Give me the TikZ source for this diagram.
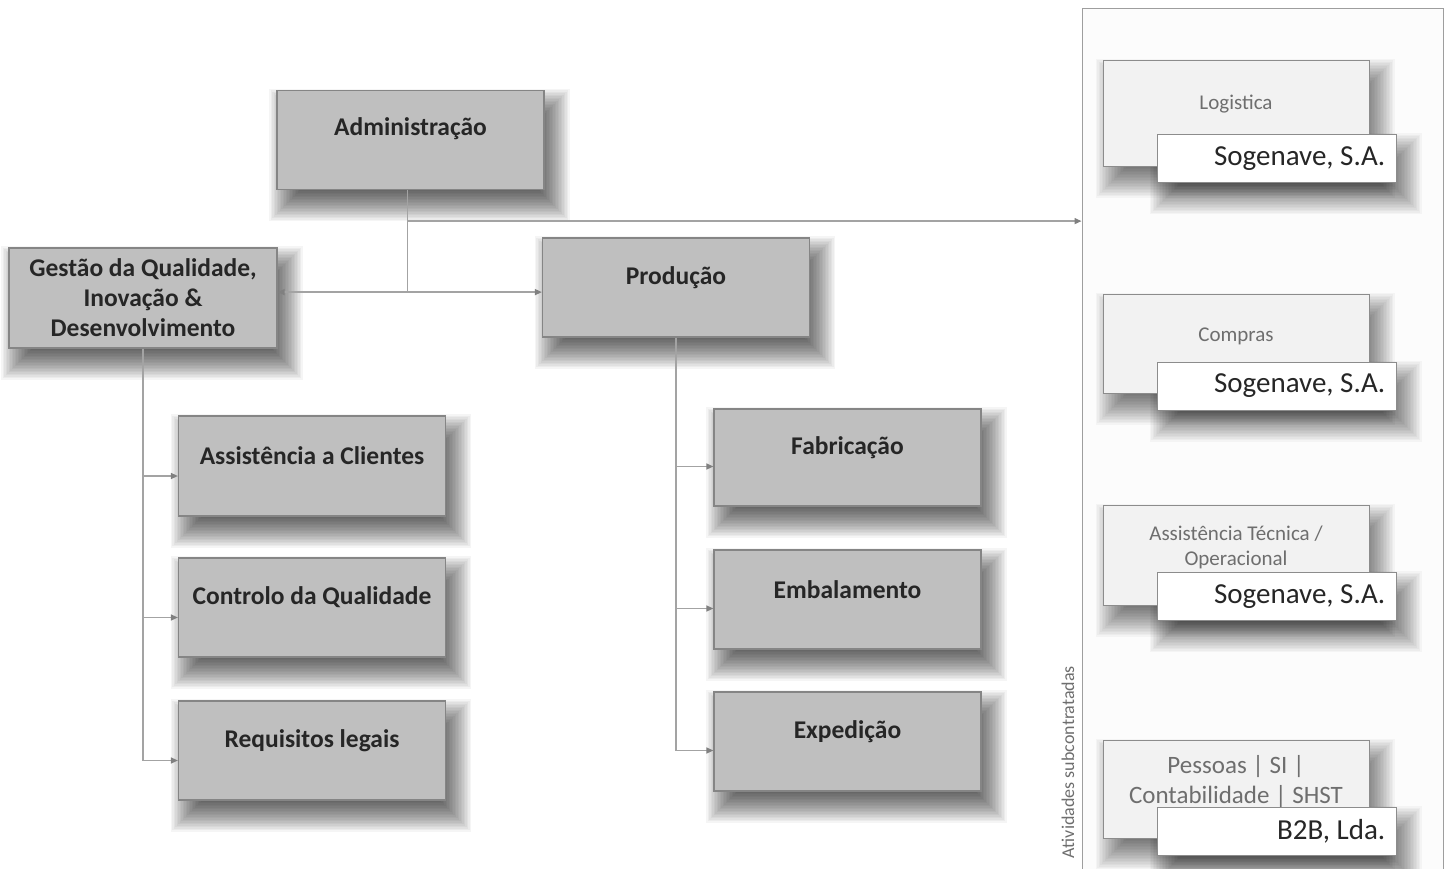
\documentclass[tikz,border=0pt]{standalone}
\usepackage{fontspec}
\setmainfont{Carlito}
\usetikzlibrary{arrows.meta,calc}
\definecolor{boxgray}{HTML}{BFBFBF}
\definecolor{boxedge}{HTML}{858585}
\definecolor{txtdark}{HTML}{262626}
\definecolor{lboxfill}{HTML}{F2F2F2}
\definecolor{lboxedge}{HTML}{8C8C8C}
\definecolor{ltext}{HTML}{6E6E6E}
\definecolor{conncolor}{HTML}{A3A3A3}
\definecolor{tipcolor}{HTML}{808080}
\definecolor{frameedge}{HTML}{9E9E9E}
\definecolor{framefill}{HTML}{FCFCFC}
\pgfdeclarelayer{framelayer}
\pgfdeclarelayer{shadelayer}
\pgfsetlayers{framelayer,shadelayer,main}
% soft drop shade under a named box: stacked translucent rectangles
\newcommand{\dropshade}[2][0.04]{%
  \begin{pgfonlayer}{shadelayer}
  \foreach \e in {-14,-12.5,...,16.1}{
    \fill[black,opacity=#1] ($(#2.north west)+(9-\e,15-\e)$)
      rectangle ($(#2.south east)+(9+\e,15+\e)$);
  }
  \end{pgfonlayer}}
\begin{document}
\begin{tikzpicture}[x=1pt,y=-1pt,
  gbox/.style={draw=boxedge, fill=boxgray, line width=1.2pt,
    minimum width=267pt, minimum height=99pt, inner sep=0pt},
  gtext/.style={font=\bfseries\fontsize{25.5}{30}\selectfont,
    text=txtdark, inner sep=0pt, align=center},
  lbox/.style={draw=lboxedge, fill=lboxfill, line width=1pt,
    minimum width=266pt, minimum height=100pt, inner sep=0pt},
  ltxt/.style={font=\fontsize{21}{25}\selectfont, text=ltext,
    inner sep=0pt, align=center},
  wbox/.style={draw=lboxedge, fill=white, line width=1pt,
    minimum width=239pt, minimum height=48pt, inner sep=0pt},
  wtxt/.style={font=\fontsize{29}{32}\selectfont, text=txtdark,
    inner sep=0pt, anchor=east},
  conn/.style={draw=conncolor, line width=1.4pt},
  arr/.style={conn, -{Triangle[length=7pt,width=6pt,color=tipcolor]}}
]
\useasboundingbox (0,0) rectangle (1448,868);
\begin{pgfonlayer}{framelayer}
\fill[white] (0,0) rectangle (1448,868);
% frame of the subcontracted activities
\node[draw=frameedge, fill=framefill, line width=1pt, minimum width=361pt,
  minimum height=880pt, inner sep=0pt] (frame) at (1262.5,448) {};
\end{pgfonlayer}
\node[rotate=90, font=\fontsize{18}{20}\selectfont, text=ltext, inner sep=0pt]
  (frametxt) at (1068,762) {Atividades subcontratadas};

% main departments
\node[gbox] (admin) at (410.5,140) {};
\node[gtext] (admint) at ([yshift=-39pt]admin.north) {Administração};
\node[gbox, minimum width=268pt, minimum height=100pt] (gest) at (143,298) {};
\node[gtext] (gestt) at (gest.center) {Gestão da Qualidade,\\Inovação \&\\Desenvolvimento};
\node[gbox] (prod) at (676,287.5) {};
\node[gtext] (prodt) at ([yshift=-40pt]prod.north) {Produção};

\node[gbox, minimum height=100pt] (assist) at (312,466) {};
\node[gtext] (assistt) at ([yshift=-40pt]assist.north) {Assistência a Clientes};
\node[gbox] (ctrl) at (312,607.5) {};
\node[gtext] (ctrlt) at ([yshift=-40pt]ctrl.north) {Controlo da Qualidade};
\node[gbox] (req) at (312,750.5) {};
\node[gtext] (reqt) at ([yshift=-40pt]req.north) {Requisitos legais};

\node[gbox, minimum height=97pt] (fab) at (847.5,457.5) {};
\node[gtext] (fabt) at ([yshift=-39pt]fab.north) {Fabricação};
\node[gbox] (emb) at (847.5,599.5) {};
\node[gtext] (embt) at ([yshift=-40pt]emb.north) {Embalamento};
\node[gbox] (exp) at (847.5,741.5) {};
\node[gtext] (expt) at ([yshift=-40pt]exp.north) {Expedição};

\foreach \b in {admin,gest,prod,assist,ctrl,req,fab,emb,exp}{\dropshade{\b}}

% subcontracted activities
\node[lbox, minimum height=106pt] (log) at (1236,113) {};
\node[ltxt] (logt) at ([yshift=-45pt]log.north) {Logistica};
\node[wbox] (sog1) at (1276.5,158.5) {};
\node[wtxt] (sog1t) at ([xshift=-11pt]sog1.east) {Sogenave, S.A.};

\node[lbox, minimum height=99pt] (comp) at (1236,343.5) {};
\node[ltxt] (compt) at ([yshift=-43pt]comp.north) {Compras};
\node[wbox] (sog2) at (1276.5,386) {};
\node[wtxt] (sog2t) at ([xshift=-11pt]sog2.east) {Sogenave, S.A.};

\node[lbox] (tec) at (1236,555) {};
\node[ltxt] (tect) at ([yshift=-42.5pt]tec.north) {Assistência Técnica /\\Operacional};
\node[wbox] (sog3) at (1276.5,596.5) {};
\node[wtxt] (sog3t) at ([xshift=-11pt]sog3.east) {Sogenave, S.A.};

\node[lbox, minimum height=98pt] (pes) at (1236,789) {};
\node[ltxt, font=\fontsize{25}{30}\selectfont] (pest) at ([yshift=-42pt]pes.north) {Pessoas | SI |\\Contabilidade | SHST};
\node[wbox] (b2b) at (1276.5,831.5) {};
\node[wtxt] (b2bt) at ([xshift=-11pt]b2b.east) {B2B, Lda.};

\foreach \b in {log,comp,tec,pes,sog1,sog2,sog3,b2b}{\dropshade[0.03]{\b}}

% connectors
\coordinate (j) at ($(admin.south)+(-3,102)$);
\coordinate (k) at ($(admin.south)+(-3,31)$);
\draw[conn] ([xshift=-3pt]admin.south) -- (j);
\draw[arr] (j) -- (j -| gest.east);
\draw[arr] (j) -- (j -| prod.west);
\draw[arr] (k) -- (k -| frame.west);

\foreach \b in {assist,ctrl,req}{
  \coordinate (\b a) at ([yshift=-10pt]\b.west);
  \draw[arr] (gest.south |- \b a) -- (\b a);
}
\draw[conn] (gest.south) -- (gest.south |- reqa);

\foreach \b in {fab,emb,exp}{
  \coordinate (\b a) at ([yshift=-9pt]\b.west);
  \draw[arr] (prod.south |- \b a) -- (\b a);
}
\draw[conn] (prod.south) -- (prod.south |- expa);
\end{tikzpicture}
\end{document}
